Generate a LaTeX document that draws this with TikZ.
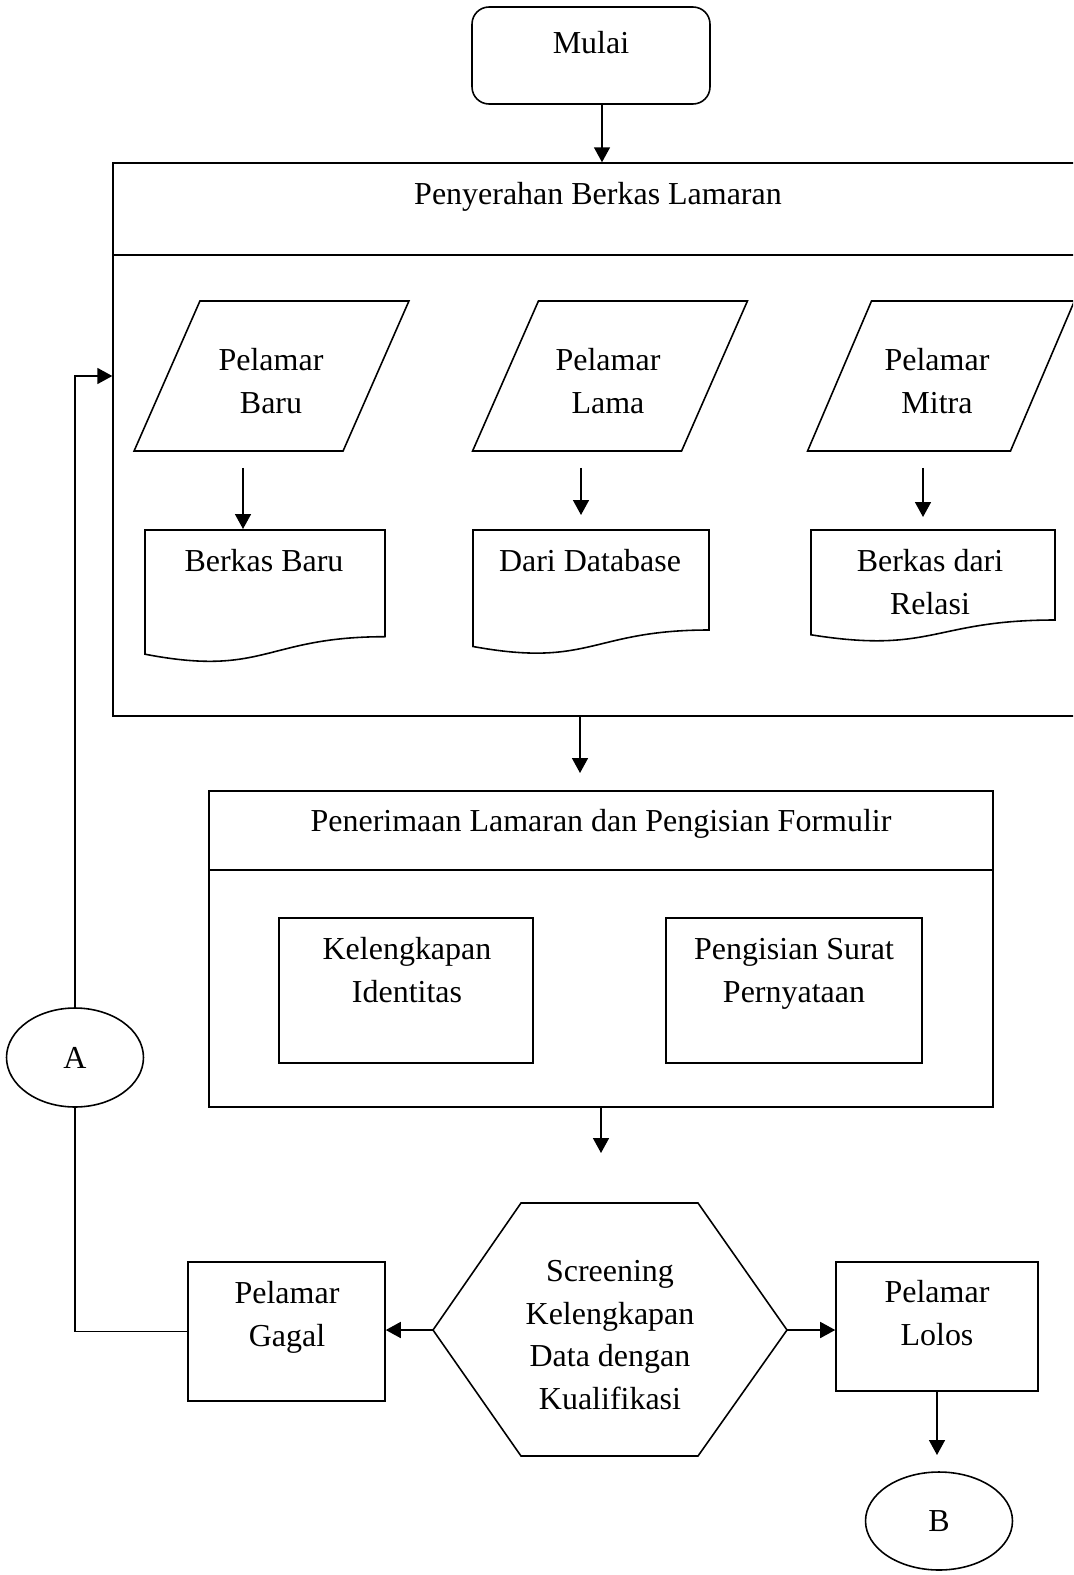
\documentclass[tikz,border=0pt]{standalone}
\usepackage{fontspec}
\setmainfont{Liberation Serif}
\usepackage{tikz}
\usetikzlibrary{shapes.geometric, arrows.meta}
\tikzstyle{Terminal} = [rectangle,
                        rounded corners=0.34cm,
                        minimum width=4.76cm,
                        minimum height=1.94cm,
                        draw=black]
\tikzstyle{Proses} = [rectangle,
                      draw=black]
\tikzstyle{Data} = [trapezium,
                    trapezium left angle=65.3,
                    trapezium right angle=114.7,
                    trapezium stretches=true,
                    minimum width=5.5cm,
                    minimum height=3cm,
                    draw=black]
\tikzstyle{Teks} = [align=center,
                    inner sep=0pt]
\tikzstyle{Konektor} = [ellipse,
                        minimum width=2.74cm,
                        minimum height=1.98cm,
                        draw=black]
\tikzstyle{arrow} = [-{Triangle[length=0.3cm, width=0.32cm]}]

\begin{document}
\begin{tikzpicture}[x=0.02cm, y=-0.02cm, line width=0.9pt,
                    font=\fontsize{18.2}{24.2}\selectfont]
        \useasboundingbox (0,0) rectangle (1073,1575);
        \clip (0,0) rectangle (1073,1575);

        % mulai
        \node (Mulai) [Terminal] at (591,55.5) {};
        \node (Mulai_T) [Teks] at (591,43) {Mulai};

        % penyerahan berkas
        \node (Penyerahan) [Proses, minimum width=20.14cm, minimum height=11.06cm] at (616.5,439.5) {};
        \node (Penyerahan_T) [Teks] at (598,197) {Penyerahan Berkas Lamaran};
        \draw ([yshift=-1.86cm]Penyerahan.north west) -- ([yshift=-1.86cm]Penyerahan.north east);

        \node (P_Baru) [Data] at (271.5,376) {};
        \node (P_Lama) [Data] at (610,376) {};
        \node (P_Mitra) [Data, minimum width=5.34cm] at (941,376) {};
        \node (P_Baru_T) [Teks] at (271,381) {Pelamar\\Baru};
        \node (P_Lama_T) [Teks] at (608,381) {Pelamar\\Lama};
        \node (P_Mitra_T) [Teks] at (937,381) {Pelamar\\Mitra};

        \draw (145,530) -- (385,530) -- (385,636.7) .. controls (265,636.7) and (265,677.3) .. (145,654.2) -- cycle;
        \draw (473,530) -- (709,530) -- (709,630) .. controls (591,630) and (591,668.1) .. (473,646.5) -- cycle;
        \draw (811,530) -- (1055,530) -- (1055,620) .. controls (933,620) and (933,654.3) .. (811,634.8) -- cycle;
        \node (D_Baru) [Teks] at (264,561) {Berkas Baru};
        \node (D_Lama) [Teks] at (590,561) {Dari Database};
        \node (D_Mitra) [Teks] at (930,582) {Berkas dari\\Relasi};

        \coordinate (T_Baru) at (243,529);
        \coordinate (T_Lama) at (581,515);
        \coordinate (T_Mitra) at (923,517);

        % penerimaan lamaran
        \node (Penerimaan) [Proses, minimum width=15.68cm, minimum height=6.32cm] at (601,949) {};
        \node (Penerimaan_T) [Teks] at (601,824) {Penerimaan Lamaran dan Pengisian Formulir};
        \draw ([yshift=-1.6cm]Penerimaan.north west) -- ([yshift=-1.6cm]Penerimaan.north east);

        \node (Identitas) [Proses, minimum width=5.08cm, minimum height=2.9cm] at (406,990.5) {};
        \node (Identitas_T) [Teks] at (407,970) {Kelengkapan\\Identitas};
        \node (Surat) [Proses, minimum width=5.12cm, minimum height=2.9cm] at (794,990.5) {};
        \node (Surat_T) [Teks] at (794,974) {Pengisian Surat\\Pernyataan};

        % screening
        \coordinate (S_Kiri) at (433,1330);
        \coordinate (S_Kanan) at (787,1330);
        \draw (S_Kiri) -- (521,1203) -- (698,1203) -- (S_Kanan) -- (698,1456) -- (521,1456) -- cycle;
        \node (Screening) [Teks] at (610,1335) {Screening\\Kelengkapan\\Data dengan\\Kualifikasi};

        \node (Gagal) [Proses, minimum width=3.94cm, minimum height=2.78cm] at (286.5,1331.5) {};
        \node (Gagal_T) [Teks] at (287,1317.5) {Pelamar\\Gagal};
        \node (Lolos) [Proses, minimum width=4.04cm, minimum height=2.58cm] at (937,1326.5) {};
        \node (Lolos_T) [Teks] at (937,1313) {Pelamar\\Lolos};

        \node (A) [Konektor] at (75,1057.5) {A};
        \node (B) [Konektor, minimum width=2.94cm, minimum height=1.96cm] at (939,1521) {B};

        \coordinate (T_Penerimaan) at (580,773);
        \coordinate (T_Screening) at (601,1153);
        \coordinate (T_B) at (937,1455);

        % panah
        \draw [arrow] ([xshift=0.22cm]Mulai.south) -- ([xshift=0.22cm]Mulai.south |- Penyerahan.north);
        \draw [arrow, shorten <=0.32cm] (P_Baru.south -| T_Baru) -- (T_Baru);
        \draw [arrow, shorten <=0.32cm] (P_Lama.south -| T_Lama) -- (T_Lama);
        \draw [arrow, shorten <=0.32cm] (P_Mitra.south -| T_Mitra) -- (T_Mitra);
        \draw [arrow] (Penyerahan.south -| T_Penerimaan) -- (T_Penerimaan);
        \draw [arrow] (Penerimaan.south -| T_Screening) -- (T_Screening);
        \draw [arrow] (S_Kiri) -- (S_Kiri -| Gagal.east);
        \draw [arrow] (S_Kanan) -- (S_Kanan -| Lolos.west);
        \draw [arrow] (Lolos.south) -- (T_B);
        \draw (Gagal.west) -| (A.south);
        \draw [arrow] (A.north) |- (Penyerahan.west |- P_Baru);
    \end{tikzpicture}
\end{document}
